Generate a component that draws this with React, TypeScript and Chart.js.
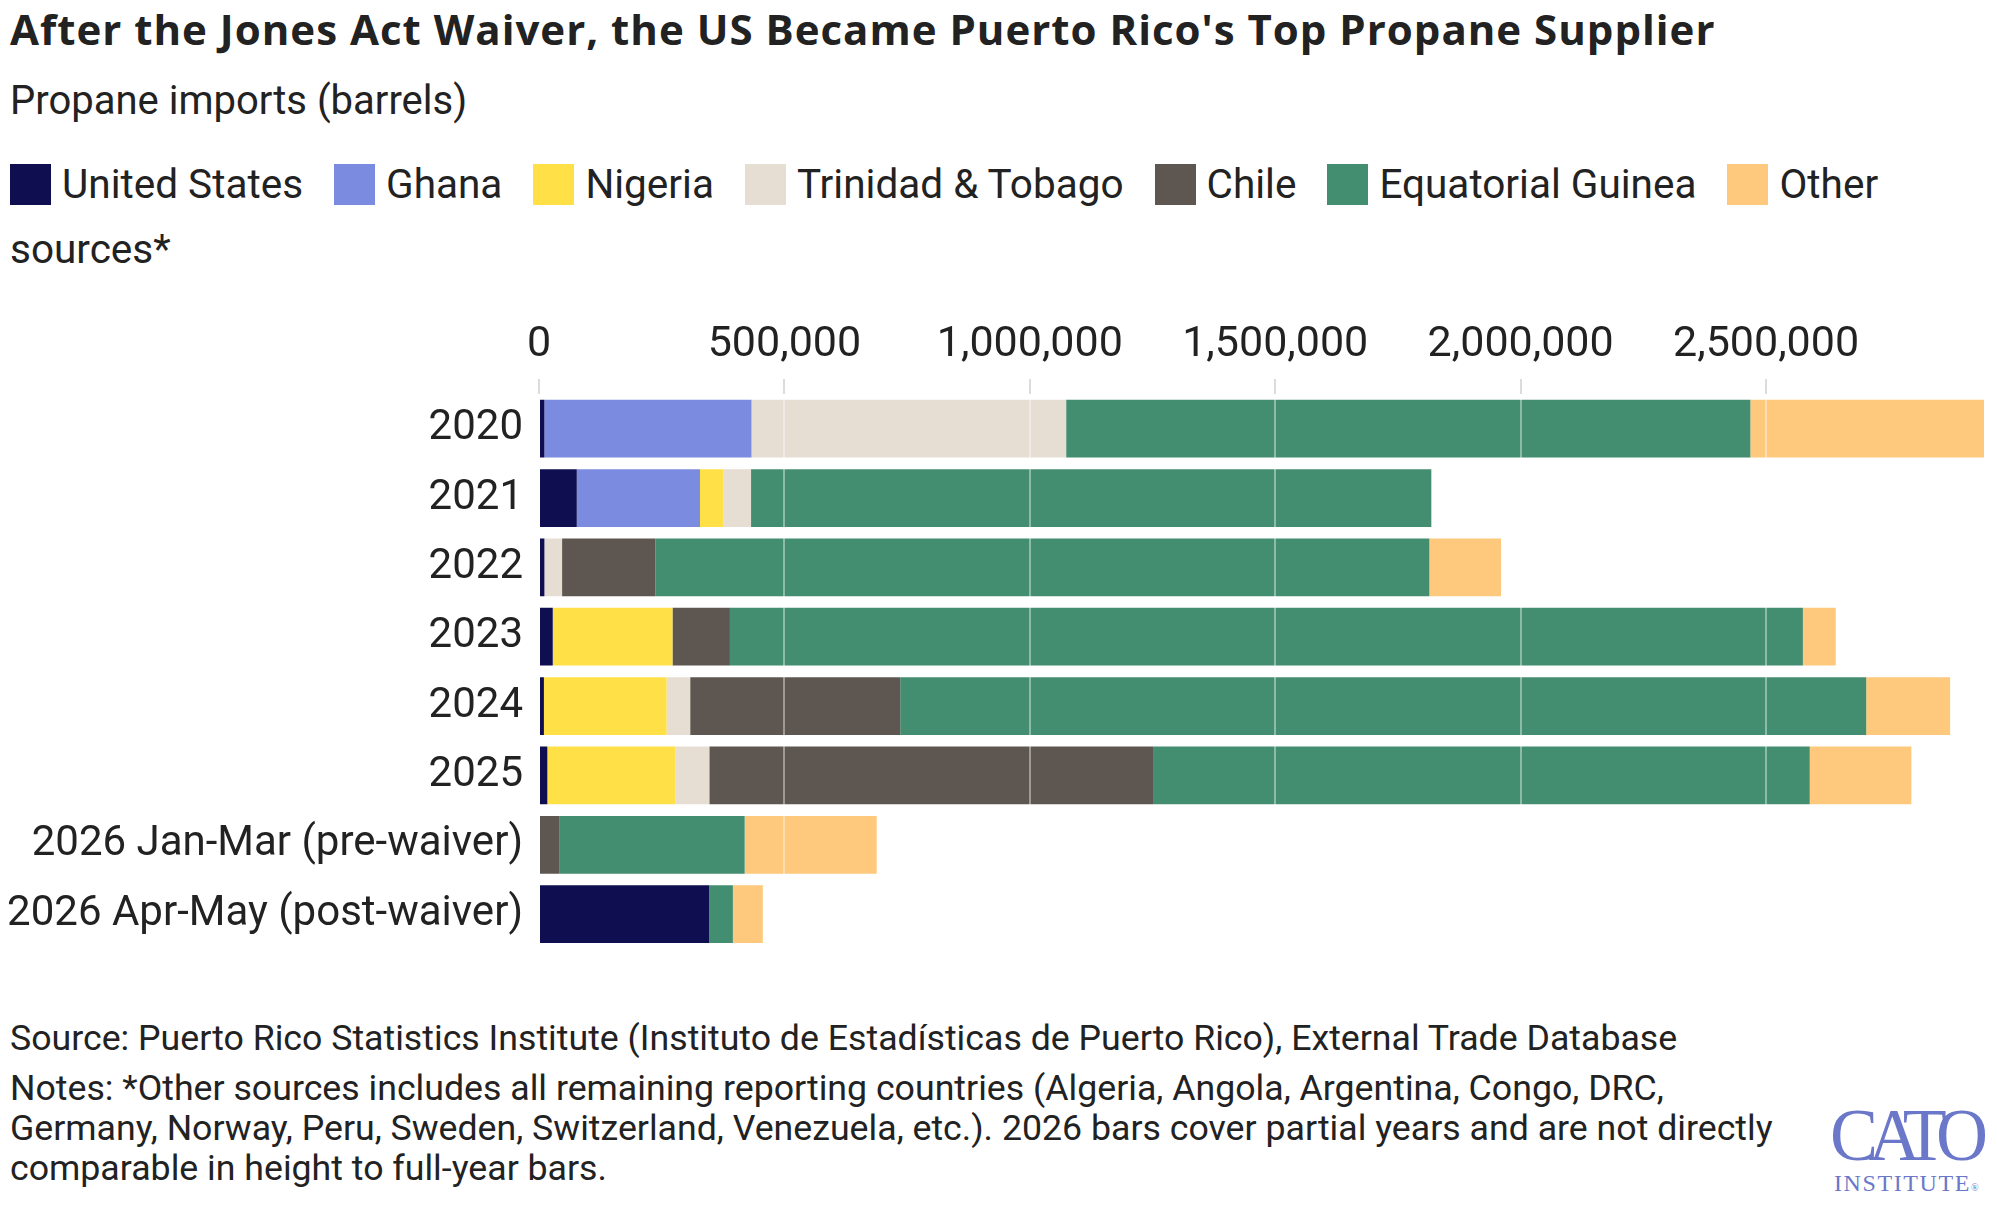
import React, { useEffect, useRef } from "react";
import { Chart, registerables } from "chart.js";

Chart.register(...registerables);

// Categories (rows) of the stacked horizontal bar chart
const categories = [
  "2020",
  "2021",
  "2022",
  "2023",
  "2024",
  "2025",
  "2026 Jan-Mar (pre-waiver)",
  "2026 Apr-May (post-waiver)",
];

// Propane imports by source, in barrels
const unitedStates = [11000, 77000, 11000, 28000, 10000, 17000, 0, 347000];
const ghana = [422000, 251000, 0, 0, 0, 0, 0, 0];
const nigeria = [0, 48000, 0, 244000, 250000, 261000, 0, 0];
const trinidadTobago = [641000, 56000, 36000, 0, 48000, 69000, 0, 0];
const chile = [0, 0, 190000, 117000, 428000, 904000, 41000, 0];
const equatorialGuinea = [1394000, 1386000, 1577000, 2186000, 1968000, 1338000, 378000, 48000];
const otherSources = [476000, 0, 146000, 67000, 171000, 207000, 269000, 61000];

const seriesNames = [
  "United States",
  "Ghana",
  "Nigeria",
  "Trinidad & Tobago",
  "Chile",
  "Equatorial Guinea",
  "Other sources*",
];
const seriesValues = [unitedStates, ghana, nigeria, trinidadTobago, chile, equatorialGuinea, otherSources];
const seriesColors = ["#0e0e50", "#7b8bdf", "#ffe047", "#e6ddd3", "#5e5751", "#438e71", "#fec97c"];

// Axis ticks every half million barrels
const xTickStep = 500000;

const titleText = "After the Jones Act Waiver, the US Became Puerto Rico's Top Propane Supplier";
const subtitleText = "Propane imports (barrels)";
const sourceText =
  "Source: Puerto Rico Statistics Institute (Instituto de Estadísticas de Puerto Rico), External Trade Database";
const notesText =
  "Notes: *Other sources includes all remaining reporting countries (Algeria, Angola, Argentina, Congo, DRC, Germany, Norway, Peru, Sweden, Switzerland, Venezuela, etc.). 2026 bars cover partial years and are not directly comparable in height to full-year bars.";

const FONT = "Roboto, 'Liberation Sans', sans-serif";
const TITLE_FONT = "'Open Sans', Roboto, sans-serif";
const TEXT = "#222222";

function PropaneChart() {
  const canvasRef = useRef<HTMLCanvasElement | null>(null);

  useEffect(() => {
    const canvas = canvasRef.current;
    if (!canvas) return;
    const totals = categories.map((_, i) => seriesValues.reduce((s, arr) => s + arr[i], 0));
    const xMax = Math.max(...totals);

    const chart = new Chart(canvas, {
      type: "bar",
      data: {
        labels: categories,
        datasets: seriesNames.map((name, k) => ({
          label: name,
          data: seriesValues[k],
          backgroundColor: seriesColors[k],
          borderWidth: 0,
          categoryPercentage: 1,
          barPercentage: 60 / 72,
        })),
      },
      options: {
        indexAxis: "y",
        responsive: false,
        animation: false,
        devicePixelRatio: 1,
        layout: { padding: { left: 0, right: 13, top: 0, bottom: 20 } },
        plugins: {
          legend: { display: false },
          tooltip: { enabled: false },
        },
        scales: {
          x: {
            type: "linear",
            position: "top",
            stacked: true,
            min: 0,
            max: xMax,
            afterBuildTicks: (s: any) => {
              const ticks = [];
              for (let v = 0; v <= s.max; v += xTickStep) ticks.push({ value: v });
              s.ticks = ticks;
            },
            afterFit: (s: any) => {
              s.height = 104;
            },
            border: { display: false },
            grid: {
              z: 1,
              color: "rgba(255,255,255,0.4)",
              lineWidth: 2,
              drawTicks: true,
              tickLength: 15,
              tickColor: "#dcdcdc",
              tickWidth: 2,
            },
            ticks: {
              autoSkip: false,
              maxRotation: 0,
              padding: 8,
              color: TEXT,
              font: { family: FONT, size: 43 },
              callback: (v: any) => Number(v).toLocaleString("en-US"),
            },
          },
          y: {
            type: "category",
            stacked: true,
            afterFit: (s: any) => {
              s.width = 539;
            },
            border: { display: false },
            grid: { display: false, drawTicks: false },
            ticks: {
              padding: 16,
              color: TEXT,
              font: { family: FONT, size: 42 },
            },
          },
        },
      },
    });
    return () => chart.destroy();
  }, []);

  return (
    <canvas
      ref={canvasRef}
      width={1997}
      height={700}
      style={{ position: "absolute", left: 0, top: 290, width: 1997, height: 700 }}
    />
  );
}

export default function App() {
  return (
    <div
      style={{
        position: "absolute",
        left: 0,
        top: 0,
        width: 1997,
        height: 1208,
        background: "#ffffff",
        overflow: "hidden",
        fontFamily: FONT,
        color: TEXT,
      }}
    >
      <div
        style={{
          position: "absolute",
          left: 10,
          top: 8,
          fontFamily: TITLE_FONT,
          fontSize: 42,
          lineHeight: "42px",
          fontWeight: 700,
          letterSpacing: 1,
          whiteSpace: "nowrap",
        }}
      >
        {titleText}
      </div>
      <div
        style={{
          position: "absolute",
          left: 10,
          top: 81,
          fontSize: 40,
          lineHeight: "40px",
          whiteSpace: "nowrap",
        }}
      >
        {subtitleText}
      </div>
      <div
        style={{
          position: "absolute",
          left: 10,
          top: 152,
          width: 1900,
          fontSize: 40.5,
          lineHeight: "65px",
        }}
      >
        {seriesNames.map((name, k) => (
          <span key={name} style={{ marginRight: 31 }}>
            <span
              style={{
                display: "inline-block",
                width: 41,
                height: 41,
                background: seriesColors[k],
                verticalAlign: -7,
                marginRight: 11,
              }}
            />
            {name}
          </span>
        ))}
      </div>
      <PropaneChart />
      <div
        style={{
          position: "absolute",
          left: 10,
          top: 1018,
          fontSize: 35.7,
          lineHeight: "40px",
          whiteSpace: "nowrap",
        }}
      >
        {sourceText}
      </div>
      <div
        style={{
          position: "absolute",
          left: 10,
          top: 1068,
          width: 1790,
          fontSize: 35.7,
          lineHeight: "40px",
        }}
      >
        {notesText}
      </div>
      <div
        style={{
          position: "absolute",
          left: 1830,
          top: 1097,
          fontFamily: "'Liberation Serif', 'DejaVu Serif', serif",
          fontSize: 75,
          lineHeight: "75px",
          color: "#6b78c9",
          letterSpacing: -10,
          transform: "scaleX(0.96)",
          transformOrigin: "0 0",
          whiteSpace: "nowrap",
        }}
      >
        CATO
      </div>
      <div
        style={{
          position: "absolute",
          left: 1834,
          top: 1171,
          fontFamily: "'Liberation Serif', 'DejaVu Serif', serif",
          fontSize: 24,
          lineHeight: "24px",
          color: "#6b78c9",
          letterSpacing: 1.6,
          whiteSpace: "nowrap",
        }}
      >
        INSTITUTE<span style={{ fontSize: 10, letterSpacing: 0 }}>®</span>
      </div>
    </div>
  );
}
